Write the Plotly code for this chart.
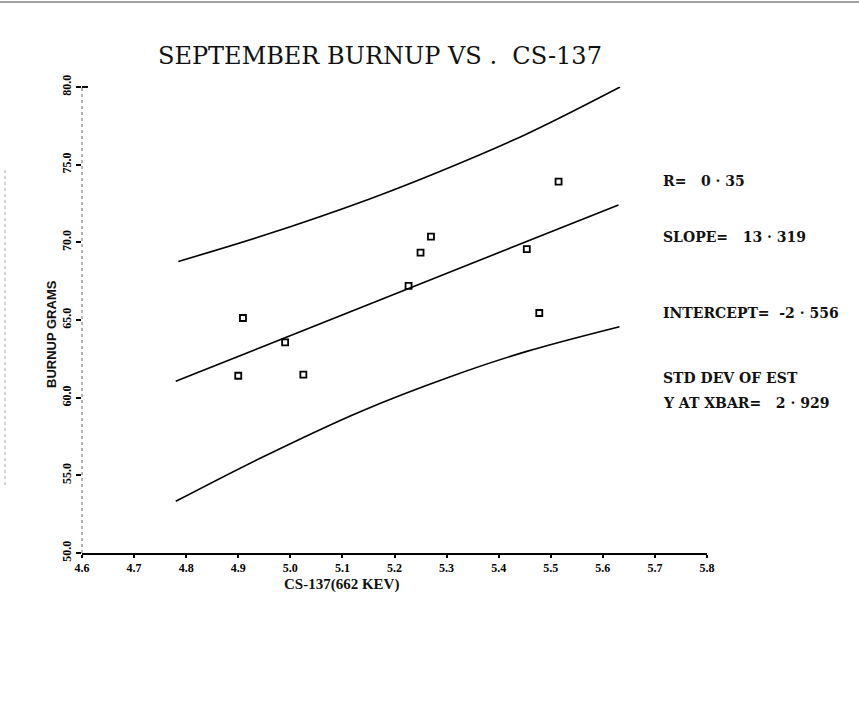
import plotly.graph_objects as go

# ---- data ----
cs137 = [5.515, 5.270, 5.250, 5.454, 5.227, 4.909, 4.990, 5.478, 4.900, 5.025]
burnup = [73.91, 70.37, 69.34, 69.56, 67.20, 65.13, 63.56, 65.45, 61.41, 61.48]

fit_x = [4.780, 5.630]
fit_y = [61.05, 72.41]

upper_x = [4.785, 4.942, 5.147, 5.294, 5.454, 5.633]
upper_y = [68.77, 70.37, 72.73, 74.66, 76.98, 80.00]

lower_x = [4.780, 4.942, 5.134, 5.307, 5.454, 5.632]
lower_y = [53.33, 56.10, 59.10, 61.35, 62.98, 64.57]

x_ticks = [4.6, 4.7, 4.8, 4.9, 5.0, 5.1, 5.2, 5.3, 5.4, 5.5, 5.6, 5.7, 5.8]
x_ticklabels = ["4.6", "4.7", "4.8", "4.9", "5.0", "5.1", "5.2", "5.3",
                "5.4", "5.5", "5.6", "5.7", "5.8"]
y_ticks = [50, 55, 60, 65, 70, 75, 80]
y_ticklabels = ["50.0", "55.0", "60.0", "65.0", "70.0", "75.0", "80.0"]

title_text = "SEPTEMBER BURNUP VS .  CS-137"
x_title = "CS-137(662 KEV)"
y_title = "BURNUP GRAMS"
stats_lines = [
    ("R=   0 · 35", 181),
    ("SLOPE=   13 · 319", 237),
    ("INTERCEPT=  -2 · 556", 313),
    ("STD DEV OF EST", 378),
    ("Y AT XBAR=   2 · 929", 403),
]

# ---- layout geometry (pixels) ----
W, H = 859, 705
L, R, T, B = 82, 707, 87, 553


def pxx(x):
    return (x - L) / (R - L)


def pxy(y):
    return (B - y) / (B - T)


SERIF = "Liberation Serif, Times New Roman, serif"
WIDE_SERIF = "DejaVu Serif, serif"

fig = go.Figure()
line_style = dict(color="black", width=1.6)
fig.add_trace(go.Scatter(x=upper_x, y=upper_y, mode="lines",
                         line=dict(shape="spline", smoothing=1.0, **line_style),
                         cliponaxis=False, hoverinfo="skip"))
fig.add_trace(go.Scatter(x=fit_x, y=fit_y, mode="lines", line=line_style,
                         cliponaxis=False, hoverinfo="skip"))
fig.add_trace(go.Scatter(x=lower_x, y=lower_y, mode="lines",
                         line=dict(shape="spline", smoothing=1.0, **line_style),
                         cliponaxis=False, hoverinfo="skip"))
fig.add_trace(go.Scatter(x=cs137, y=burnup, mode="markers",
                         marker=dict(symbol="square-open", size=6, color="black",
                                     line=dict(color="black", width=1.8)),
                         cliponaxis=False))

annotations = [
    dict(text=title_text, x=pxx(380), y=pxy(56), xref="paper", yref="paper",
         showarrow=False, xanchor="center", yanchor="middle",
         font=dict(family=WIDE_SERIF, size=24, color="#111")),
    dict(text=x_title, x=pxx(341), y=pxy(584), xref="paper", yref="paper",
         showarrow=False, xanchor="center", yanchor="middle",
         font=dict(family=SERIF, size=15, color="#111", weight="bold")),
    dict(text=y_title, x=pxx(51), y=pxy(334), xref="paper", yref="paper",
         showarrow=False, xanchor="center", yanchor="middle", textangle=-90,
         font=dict(family="Liberation Sans, Arial, sans-serif", size=13, color="#111", weight="bold")),
]
for txt, ypix in stats_lines:
    annotations.append(dict(text=txt, x=pxx(661), y=pxy(ypix), xref="paper", yref="paper",
                            showarrow=False, xanchor="left", yanchor="middle",
                            font=dict(family=WIDE_SERIF, size=14, color="#111", weight="bold")))

shapes = [
    # faint dotted y-axis line
    dict(type="line", xref="paper", yref="paper", x0=0, x1=0, y0=0, y1=1,
         line=dict(color="#666", width=1, dash="dot")),
    # small bracket at top of y axis
    dict(type="line", xref="paper", yref="paper", x0=0, x1=pxx(88), y0=1, y1=1,
         line=dict(color="black", width=2)),
    # scan border at top
    dict(type="line", xref="paper", yref="paper", x0=pxx(0), x1=pxx(W), y0=pxy(2), y1=pxy(2),
         line=dict(color="#444", width=1)),
    # faint scan line on the left
    dict(type="line", xref="paper", yref="paper", x0=pxx(5), x1=pxx(5), y0=pxy(170), y1=pxy(485),
         line=dict(color="#aaa", width=1, dash="dot")),
]

fig.update_layout(
    width=W, height=H,
    margin=dict(l=L, r=W - R, t=T, b=H - B, pad=0),
    paper_bgcolor="white", plot_bgcolor="white",
    showlegend=False,
    annotations=annotations,
    shapes=shapes,
    xaxis=dict(range=[4.6, 5.8], tickvals=x_ticks, ticktext=x_ticklabels,
               showgrid=False, zeroline=False, showline=True, linecolor="black", linewidth=2,
               ticks="outside", ticklen=3, tickwidth=2, tickcolor="black",
               tickfont=dict(family=SERIF, size=12, color="black", weight="bold")),
    yaxis=dict(range=[50, 80], tickvals=y_ticks, ticktext=y_ticklabels, tickangle=-90,
               showgrid=False, zeroline=False, showline=False,
               ticks="outside", ticklen=5, tickwidth=2, tickcolor="black",
               tickfont=dict(family=SERIF, size=12, color="black", weight="bold")),
)

fig.write_html("out.html")
